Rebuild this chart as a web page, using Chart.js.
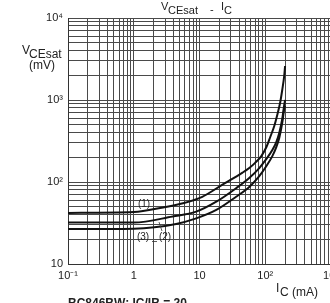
<!DOCTYPE html>
<html>
<head>
<meta charset="utf-8">
<script src="https://cdn.jsdelivr.net/npm/chart.js@4/dist/chart.umd.min.js"></script>
<style>
html,body{margin:0;padding:0;background:#fff;overflow:hidden;width:330px;height:303px;}
#wrap{position:relative;width:344px;height:303px;}
</style>
</head>
<body>
<div id="wrap"><canvas id="c" width="344" height="303"></canvas></div>
<script>
// Collector current IC (mA) and VCEsat (mV)
const ic1 = [0.1, 1, 2.8, 5.6, 11, 22, 45, 57, 70, 87, 104, 119, 137, 152, 169, 181, 194, 200];
const v1  = [42, 43, 49, 55, 66, 92, 130, 148, 171, 207, 267, 354, 482, 656, 946, 1324, 1963, 2600];
const ic2 = [0.1, 1, 3.9, 8.9, 18, 36, 57, 81, 104, 128, 147, 163, 181, 194, 200];
const v2  = [32, 32, 38, 43.5, 57.5, 84, 112, 148, 191, 245, 307, 396, 587, 869, 1000];
const ic3 = [0.1, 1, 4.4, 8.9, 18, 36, 57, 81, 104, 128, 147, 163, 181, 194, 200];
const v3  = [26.7, 27, 30.8, 36, 45.6, 66, 87, 118, 157, 207, 267, 344, 525, 776, 845];
const seriesNames = ['(1)', '(2)', '(3)'];
const xTickLabels = {'0.1':'10⁻¹','1':'1','10':'10','100':'10²','1000':'10³'};
const yTickLabels = {'10':'10','100':'10²','1000':'10³','10000':'10⁴'};

const FONT = '"Liberation Sans", Arial, sans-serif';
function logTicks(min, max){
  const t=[];
  for(let e=Math.round(Math.log10(min)); e<Math.round(Math.log10(max)); e++){
    for(let m=1;m<10;m++) t.push({value: +(m*Math.pow(10,e)).toPrecision(6)});
  }
  t.push({value:max});
  return t;
}
function pts(xs, ys){ return xs.map((x,i)=>({x:x, y:ys[i]})); }
const ds = (name, xs, ys) => ({label:name, data:pts(xs,ys), showLine:true, pointRadius:0,
  borderColor:'#111', borderWidth:2, cubicInterpolationMode:'monotone', fill:false});

const textPlugin = {
  id:'texts',
  afterDraw(chart){
    const ctx = chart.ctx;
    ctx.save();
    ctx.fillStyle = '#222';
    ctx.textBaseline = 'alphabetic';
    ctx.textAlign = 'left';
    // title
    ctx.font = '11px ' + FONT;
    ctx.fillText('V', 161, 10);
    ctx.fillText('CEsat', 168, 14);
    ctx.fillText('-', 210, 13);
    ctx.fillText('I', 221, 10);
    ctx.fillText('C', 224, 14);
    // y axis title
    ctx.font = '12px ' + FONT;
    ctx.fillText('V', 22, 54);
    ctx.fillText('CEsat', 29, 58);
    ctx.fillText('(mV)', 29, 69);
    // x axis title
    ctx.fillText('I', 276, 292);
    ctx.fillText('C (mA)', 280, 296);
    // curve labels
    ctx.font = '10px ' + FONT;
    ctx.textAlign = 'center';
    ctx.fillText(seriesNames[0], 144, 207);
    ctx.fillText(seriesNames[2], 143, 240);
    ctx.fillText(seriesNames[1], 165, 240);
    ctx.strokeStyle = '#333';
    ctx.lineWidth = 0.8;
    ctx.beginPath();
    ctx.moveTo(159,222); ctx.lineTo(162,231);
    ctx.moveTo(152,241.5); ctx.lineTo(157,241.5);
    ctx.stroke();
    // footer (cut off by the window)
    ctx.textAlign = 'left';
    ctx.font = 'bold 12px ' + FONT;
    ctx.fillText('BC846BW; IC/IB = 20', 68, 307);
    ctx.restore();
  }
};

new Chart(document.getElementById('c'), {
  type:'scatter',
  data:{datasets:[ds(seriesNames[0], ic1, v1), ds(seriesNames[1], ic2, v2), ds(seriesNames[2], ic3, v3)]},
  options:{
    responsive:false, animation:false,
    layout:{padding:{left:0, top:18, right:12, bottom:0}},
    plugins:{legend:{display:false}, tooltip:{enabled:false}},
    scales:{
      x:{type:'logarithmic', min:0.1, max:1000,
        afterBuildTicks(s){ s.ticks = logTicks(0.1,1000); },
        afterFit(s){ s.height = 39; },
        grid:{color:'#4a4a4a', lineWidth:1, drawTicks:false},
        border:{color:'#333', width:1},
        ticks:{autoSkip:false, maxRotation:0, padding:5, color:'#222', font:{family:FONT, size:11},
          callback(v){ const k = String(+v.toPrecision(6)); return xTickLabels[k] !== undefined ? xTickLabels[k] : ''; }}
      },
      y:{type:'logarithmic', min:10, max:10000,
        afterBuildTicks(s){ s.ticks = logTicks(10,10000); },
        afterFit(s){ s.width = 68; },
        grid:{color:'#4a4a4a', lineWidth:1, drawTicks:false},
        border:{color:'#333', width:1},
        ticks:{autoSkip:false, padding:5, color:'#222', font:{family:FONT, size:11},
          callback(v){ const k = String(+v.toPrecision(6)); return yTickLabels[k] !== undefined ? yTickLabels[k] : ''; }}
      }
    }
  },
  plugins:[textPlugin]
});
</script>
</body>
</html>
